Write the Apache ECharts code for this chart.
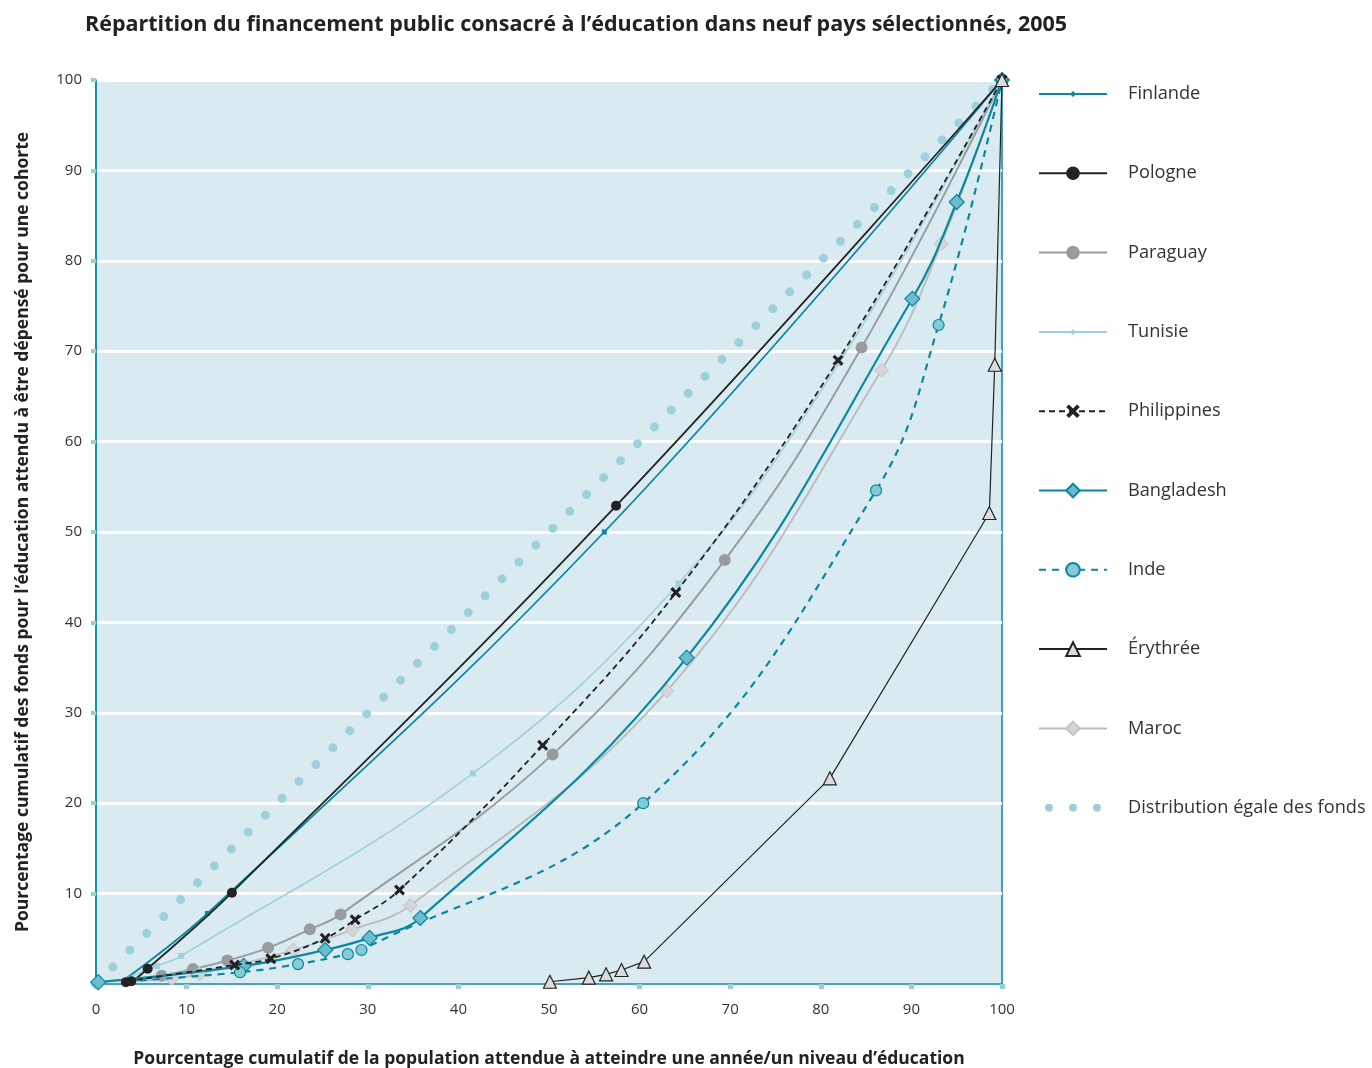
<!DOCTYPE html>
<html>
<head>
<meta charset="utf-8">
<script src="https://cdn.jsdelivr.net/npm/echarts@6/dist/echarts.min.js"></script>
<style>
html,body{margin:0;padding:0;background:#fff;}
#chart{width:1372px;height:1068px;}
</style>
</head>
<body>
<div id="chart"></div>
<script>
// ---- Data ----
const titleText = "Répartition du financement public consacré à l’éducation dans neuf pays sélectionnés, 2005";
const xAxisTitle = "Pourcentage cumulatif de la population attendue à atteindre une année/un niveau d’éducation";
const yAxisTitle = "Pourcentage cumulatif des fonds pour l’éducation attendu à être dépensé pour une cohorte";
const seriesNames = ["Finlande","Pologne","Paraguay","Tunisie","Philippines","Bangladesh","Inde","Érythrée","Maroc","Distribution égale des fonds"];

const finlandeX = [3.0, 12.3, 56.1, 100];
const finlandeY = [0.4, 7.8, 50.0, 100];

const pologneX = [3.3, 3.9, 5.7, 15.0, 57.4, 100];
const pologneY = [0.2, 0.3, 1.7, 10.1, 52.9, 100];

const paraguayX = [3.4, 7.25, 10.7, 14.5, 19.0, 23.6, 27.0, 50.4, 69.4, 84.5, 100];
const paraguayY = [0.3, 0.9, 1.66, 2.6, 4.0, 6.05, 7.7, 25.4, 46.9, 70.4, 100];

const tunisieX = [3.0, 6.7, 9.4, 41.6, 64.3, 82.0, 100];
const tunisieY = [0.5, 2.0, 3.1, 23.3, 44.3, 68.7, 100];

const philippinesX = [3.4, 15.3, 19.3, 25.3, 28.6, 33.5, 49.3, 64.0, 81.9, 100];
const philippinesY = [0.3, 2.1, 2.8, 5.05, 7.1, 10.4, 26.4, 43.3, 69.0, 100];

const bangladeshX = [0.25, 16.3, 25.3, 30.2, 35.8, 65.2, 90.1, 95.0, 100];
const bangladeshY = [0.2, 2.0, 3.76, 5.1, 7.3, 36.1, 75.8, 86.5, 100];

const indeX = [3.4, 15.9, 22.3, 27.8, 29.3, 60.4, 86.1, 93.0, 100];
const indeY = [0.3, 1.3, 2.2, 3.3, 3.76, 20.0, 54.6, 72.9, 100];

const erythreeX = [50.1, 54.4, 56.3, 58.0, 60.5, 81.0, 98.6, 99.2, 100];
const erythreeY = [0.25, 0.7, 1.07, 1.55, 2.47, 22.75, 52.1, 68.5, 100];

const marocX = [3.4, 8.35, 11.4, 21.8, 28.3, 34.7, 63.0, 86.7, 93.3, 100];
const marocY = [0.3, 0.6, 1.1, 3.76, 6.0, 8.7, 32.4, 67.9, 81.9, 100];

const egaleX = [0, 100];
const egaleY = [0, 100];

const xTicks = [0,10,20,30,40,50,60,70,80,90,100];
const yTicks = [10,20,30,40,50,60,70,80,90,100];

// ---- helpers ----
function pts(xs, ys, hideFirst) {
  return xs.map((x, i) => {
    const d = { value: [x, ys[i]] };
    if (hideFirst && i === 0) d.symbol = 'none';
    return d;
  });
}

const TEAL = '#0b87a1';
const FONT = 'Open Sans';
const xMark = 'path://M2,0 L5,3 L8,0 L10,2 L7,5 L10,8 L8,10 L5,7 L2,10 L0,8 L3,5 L0,2 Z';
// legend icons (68 x 17 box; leading moveTo points fix the bounding box)
const iconBox = 'M0,0 M68,17 ';
const smallMarkLine = 'path://' + iconBox + 'M0,7.5 L68,7.5 L68,9.5 L0,9.5 Z M34,5.5 L37,8.5 L34,11.5 L31,8.5 Z';
const threeDots = 'path://' + iconBox +
  'M6,8.5 a4,4 0 1,0 8,0 a4,4 0 1,0 -8,0 Z ' +
  'M30,8.5 a4,4 0 1,0 8,0 a4,4 0 1,0 -8,0 Z ' +
  'M54,8.5 a4,4 0 1,0 8,0 a4,4 0 1,0 -8,0 Z';

const chart = echarts.init(document.getElementById('chart'), null, {renderer: 'canvas'});

const legendData = seriesNames.map(n => ({ name: n }));
legendData[0].icon = smallMarkLine;   // Finlande
legendData[3].icon = smallMarkLine;   // Tunisie
legendData[9].icon = threeDots;       // Distribution égale

const option = {
  backgroundColor: '#ffffff',
  animation: false,
  textStyle: { fontFamily: FONT },
  title: {
    text: titleText,
    left: 80, top: 9,
    textStyle: { fontFamily: FONT, fontSize: 21.5, fontWeight: 'bold', color: '#222' }
  },
  grid: {
    left: 96, right: 370, top: 80, bottom: 84,
    outerBoundsMode: 'none', containLabel: false,
    show: true, backgroundColor: '#d9ebf1', borderColor: TEAL, borderWidth: 1.5
  },
  legend: {
    orient: 'vertical',
    left: 1033, top: 80,
    itemWidth: 68, itemHeight: 17,
    itemGap: 61.3,
    textStyle: { fontFamily: FONT, fontSize: 18.2, color: '#333', padding: [0, 0, 0, 16] },
    data: legendData
  },
  xAxis: {
    type: 'value', min: 0, max: 100, interval: 10,
    name: xAxisTitle, nameLocation: 'middle', nameGap: 66,
    nameTextStyle: { fontFamily: FONT, fontSize: 17.5, fontWeight: 'bold', color: '#222' },
    axisLine: { show: true, lineStyle: { color: TEAL, width: 1.5 } },
    axisTick: { show: true, length: 5, lineStyle: { color: '#95cedb', width: 5 } },
    axisLabel: { fontFamily: FONT, fontSize: 15, color: '#333', margin: 18,
      formatter: v => xTicks.includes(v) ? String(v) : '' },
    splitLine: { show: false }
  },
  yAxis: {
    type: 'value', min: 0, max: 100, interval: 10,
    name: yAxisTitle, nameLocation: 'middle', nameGap: 64, nameRotate: 90,
    nameTextStyle: { fontFamily: FONT, fontSize: 17.5, fontWeight: 'bold', color: '#222' },
    axisLine: { show: true, lineStyle: { color: TEAL, width: 1.5 } },
    axisTick: { show: true, length: 5, lineStyle: { color: '#95cedb', width: 4 } },
    axisLabel: { fontFamily: FONT, fontSize: 15, color: '#333', margin: 14,
      formatter: v => yTicks.includes(v) ? String(v) : '' },
    splitLine: { show: true, lineStyle: { color: '#ffffff', width: 3 } }
  },
  series: [
    {
      name: seriesNames[9], type: 'line', data: pts(egaleX, egaleY), symbol: 'none', z: 1,
      lineStyle: { color: '#9ed0dc', width: 9, type: [0, 23.9], cap: 'round' },
      itemStyle: { color: '#9ed0dc' }
    },
    {
      name: 'Finlande', type: 'line', data: pts(finlandeX, finlandeY, true), smooth: 0.4,
      symbol: 'rect', symbolSize: 5, z: 3,
      lineStyle: { color: TEAL, width: 1.8 }, itemStyle: { color: TEAL }
    },
    {
      name: 'Pologne', type: 'line', data: pts(pologneX, pologneY), smooth: 0.4,
      symbol: 'circle', symbolSize: 10, z: 4,
      lineStyle: { color: '#222', width: 1.8 }, itemStyle: { color: '#222' }
    },
    {
      name: 'Paraguay', type: 'line', data: pts(paraguayX, paraguayY, true), smooth: 0.4,
      symbol: 'circle', symbolSize: 12, z: 3,
      lineStyle: { color: '#999c9f', width: 2 }, itemStyle: { color: '#999c9f' }
    },
    {
      name: 'Tunisie', type: 'line', data: pts(tunisieX, tunisieY, true), smooth: 0.4,
      symbol: 'rect', symbolSize: 6, z: 3,
      lineStyle: { color: '#9fd1dd', width: 1.6 }, itemStyle: { color: '#9fd1dd' }
    },
    {
      name: 'Philippines', type: 'line', data: pts(philippinesX, philippinesY, true), smooth: 0.4,
      symbol: xMark, symbolSize: 11, z: 5,
      lineStyle: { color: '#222', width: 1.8, type: [6, 4] }, itemStyle: { color: '#222' }
    },
    {
      name: 'Bangladesh', type: 'line', data: pts(bangladeshX, bangladeshY), smooth: 0.4,
      symbol: 'diamond', symbolSize: 15, z: 4,
      lineStyle: { color: TEAL, width: 2.2 },
      itemStyle: { color: '#6dbccd', borderColor: TEAL, borderWidth: 1.2 }
    },
    {
      name: 'Inde', type: 'line', data: pts(indeX, indeY, true), smooth: 0.4,
      symbol: 'circle', symbolSize: 11, z: 4,
      lineStyle: { color: TEAL, width: 2.2, type: [7, 6] },
      itemStyle: { color: '#84cad9', borderColor: TEAL, borderWidth: 1.2 }
    },
    {
      name: 'Érythrée', type: 'line', data: pts(erythreeX, erythreeY), smooth: false,
      symbol: 'triangle', symbolSize: 13, z: 6,
      lineStyle: { color: '#222', width: 1.2 },
      itemStyle: { color: '#dcdcdc', borderColor: '#222', borderWidth: 1.2 }
    },
    {
      name: 'Maroc', type: 'line', data: pts(marocX, marocY, true), smooth: 0.4,
      symbol: 'diamond', symbolSize: 14, z: 3,
      lineStyle: { color: '#b9bbbd', width: 1.8 },
      itemStyle: { color: '#d3d5d6', borderColor: '#c0c2c4', borderWidth: 1 }
    }
  ]
};
chart.setOption(option);
</script>
</body>
</html>
